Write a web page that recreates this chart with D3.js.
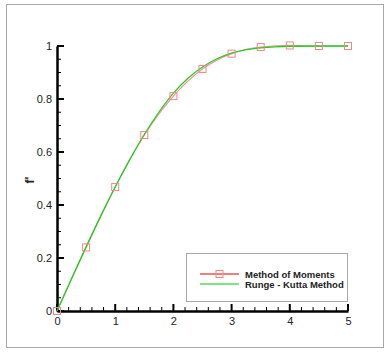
<!DOCTYPE html>
<html>
<head>
<meta charset="utf-8">
<script src="https://cdn.jsdelivr.net/npm/d3@7"></script>
<style>
  body { margin: 0; background: #fff; }
  svg { display: block; font-family: "Liberation Sans", Arial, sans-serif; }
</style>
</head>
<body>
<div id="chart"></div>
<script>
// method of moments (squares)
const momEta = [0, 0.5, 1, 1.5, 2, 2.5, 3, 3.5, 4, 4.5, 5];
const momVal = [0, 0.24, 0.468, 0.664, 0.811, 0.913, 0.971, 0.996, 1.002, 1.0, 1.0];

// runge-kutta solution (line)
const rkEta = [0, 0.25, 0.5, 0.75, 1, 1.25, 1.5, 1.75, 2, 2.25, 2.5, 2.75, 3, 3.25, 3.5, 3.75, 4, 4.5, 5];
const rkVal = [0, 0.122, 0.242, 0.358, 0.468, 0.571, 0.666, 0.750, 0.822, 0.878, 0.921, 0.952, 0.973, 0.986, 0.993, 0.997, 0.999, 1.0, 1.0];

const xTicks = [0, 1, 2, 3, 4, 5];
const yTicks = [0, 0.2, 0.4, 0.6, 0.8, 1];
const legendLabels = ['Method of Moments', 'Runge - Kutta Method'];

const width = 385, height = 352;

const svg = d3.select('#chart')
  .append('svg')
  .attr('width', width)
  .attr('height', height);

// outer frame
svg.append('rect')
  .attr('x', 6.5).attr('y', 4.5)
  .attr('width', 377).attr('height', 343)
  .attr('fill', 'none')
  .attr('stroke', '#a8a8a8')
  .attr('stroke-width', 1);

const x = d3.scaleLinear().domain([0, 5]).range([57, 348]);
const y = d3.scaleLinear().domain([0, 1]).range([311, 46]);

const xMinor = d3.range(0, 5.001, 0.2).filter(v => Math.abs(v - Math.round(v)) > 1e-6);
const yMinor = d3.range(0, 1.001, 0.05).filter(v => Math.abs(v * 5 - Math.round(v * 5)) > 1e-6);

// x axis
const gx = svg.append('g').attr('transform', `translate(0,${y(0)})`);
gx.call(d3.axisBottom(x).tickValues(xTicks).tickFormat(d3.format('d')).tickSize(0).tickPadding(6));
gx.select('.domain').attr('stroke', '#000').attr('stroke-width', 2.5);
gx.selectAll('text').attr('font-size', 11).attr('fill', '#222');
gx.selectAll('.major').data(xTicks).enter().append('line')
  .attr('x1', d => x(d)).attr('x2', d => x(d))
  .attr('y1', 0).attr('y2', -7)
  .attr('stroke', '#000').attr('stroke-width', 2);
gx.selectAll('.minor').data(xMinor).enter().append('line')
  .attr('x1', d => x(d)).attr('x2', d => x(d))
  .attr('y1', 0).attr('y2', -4)
  .attr('stroke', '#000').attr('stroke-width', 1);

// y axis
const gy = svg.append('g').attr('transform', `translate(${x(0)},0)`);
gy.call(d3.axisLeft(y).tickValues(yTicks).tickFormat(d => d === 0 || d === 1 ? d3.format('d')(d) : d3.format('.1f')(d)).tickSize(0).tickPadding(5));
gy.select('.domain').attr('stroke', '#000').attr('stroke-width', 2.5);
gy.selectAll('text').attr('font-size', 11).attr('fill', '#222');
gy.selectAll('.major').data(yTicks).enter().append('line')
  .attr('x1', 0).attr('x2', 7)
  .attr('y1', d => y(d)).attr('y2', d => y(d))
  .attr('stroke', '#000').attr('stroke-width', 2);
gy.selectAll('.minor').data(yMinor).enter().append('line')
  .attr('x1', 0).attr('x2', 4)
  .attr('y1', d => y(d)).attr('y2', d => y(d))
  .attr('stroke', '#000').attr('stroke-width', 1);

// axis title
svg.append('text')
  .attr('transform', `translate(34,180) rotate(-90)`)
  .attr('text-anchor', 'middle')
  .attr('font-size', 12)
  .attr('font-weight', 'bold')
  .attr('fill', '#222')
  .text("f'");

const momData = momEta.map((e, i) => ({ eta: e, v: momVal[i] }));
const rkData = rkEta.map((e, i) => ({ eta: e, v: rkVal[i] }));

const line = d3.line()
  .x(d => x(d.eta))
  .y(d => y(d.v))
  .curve(d3.curveMonotoneX);

svg.append('path')
  .datum(momData)
  .attr('d', line)
  .attr('fill', 'none')
  .attr('stroke', '#e85050')
  .attr('stroke-opacity', 0.6)
  .attr('stroke-width', 1.2);

svg.append('path')
  .datum(rkData)
  .attr('d', line)
  .attr('fill', 'none')
  .attr('stroke', '#22cc22')
  .attr('stroke-width', 1.3);

svg.selectAll('.sq').data(momData).enter().append('rect')
  .attr('x', d => x(d.eta) - 3.5)
  .attr('y', d => y(d.v) - 3.5)
  .attr('width', 7).attr('height', 7)
  .attr('fill', 'none')
  .attr('stroke', '#ee8888')
  .attr('stroke-width', 1);

// legend
const lg = svg.append('g');
lg.append('rect')
  .attr('x', 186.5).attr('y', 253.5)
  .attr('width', 161).attr('height', 48)
  .attr('fill', '#fff')
  .attr('stroke', '#a8a8a8')
  .attr('stroke-width', 1);
const legendColors = ['#e00000', '#00cc00'];
legendLabels.forEach((label, i) => {
  const ly = 274 + i * 10;
  lg.append('line')
    .attr('x1', 200).attr('x2', 239)
    .attr('y1', ly).attr('y2', ly)
    .attr('stroke', legendColors[i])
    .attr('stroke-width', 1.2);
  if (i === 0) {
    lg.append('rect')
      .attr('x', 216).attr('y', ly - 3.5)
      .attr('width', 7).attr('height', 7)
      .attr('fill', 'none')
      .attr('stroke', '#ee8888');
  }
  lg.append('text')
    .attr('x', 245).attr('y', ly + 3.5)
    .attr('font-size', 9.5)
    .attr('font-weight', 'bold')
    .attr('fill', '#222')
    .text(label);
});
</script>
</body>
</html>
